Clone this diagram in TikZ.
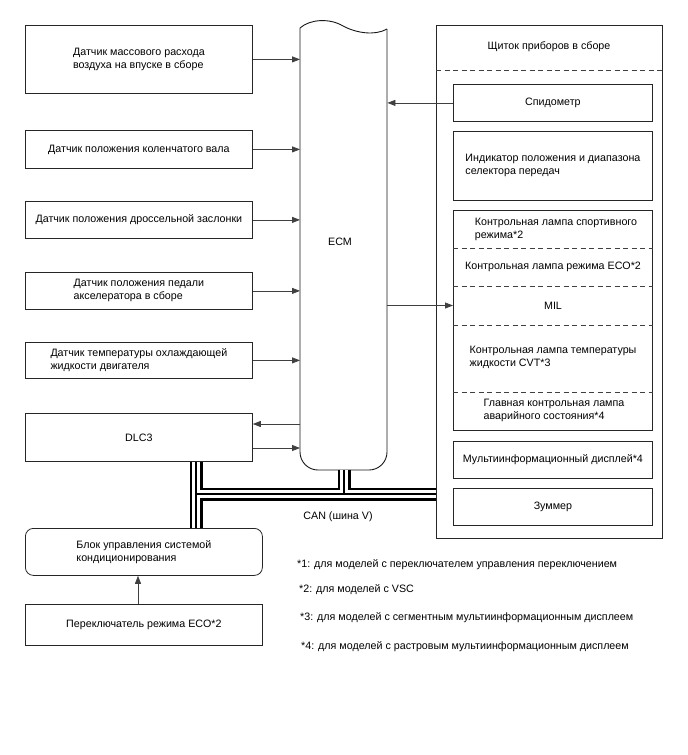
\documentclass[tikz,border=0pt]{standalone}
\usepackage{fontspec}
\setmainfont{Liberation Sans}
\usetikzlibrary{arrows.meta}
\begin{document}
\begin{tikzpicture}[x=1pt,y=-1pt,
  font=\fontsize{10.7}{13}\selectfont,
  box/.style={draw=black!85, line width=0.8pt, anchor=north west, align=left, inner sep=0pt},
  txt/.style={align=left, inner sep=0pt},
  arr/.style={draw=black!75, line width=0.8pt, -{Triangle[length=8pt,width=6pt]}},
  sep/.style={draw=black!75, line width=0.8pt, dash pattern=on 5pt off 3.5pt},
  note/.style={anchor=west, inner sep=0pt},
]
\useasboundingbox (0,0) rectangle (688,755);
\fill[white] (0,0) rectangle (688,755);

% left column
\node[box, minimum width=227pt, minimum height=68pt] (maf) at (25,25) {Датчик массового расхода\\воздуха на впуске в сборе};
\node[box, minimum width=227pt, minimum height=38pt] (crank) at (25,130) {Датчик положения коленчатого вала};
\node[box, minimum width=227pt, minimum height=37pt] (thr) at (25,201) {Датчик положения дроссельной заслонки};
\node[box, minimum width=227pt, minimum height=37pt] (ped) at (25,272) {Датчик положения педали\\акселератора в сборе};
\node[box, minimum width=227pt, minimum height=36pt] (cool) at (25,342) {Датчик температуры охлаждающей\\жидкости двигателя};
\node[box, minimum width=227pt, minimum height=48pt] (dlc) at (25,413) {DLC3};
\node[box, rounded corners=8pt, minimum width=237pt, minimum height=47pt] (ac) at (25,528) {Блок управления системой\\кондиционирования};
\node[box, minimum width=237pt, minimum height=41pt] (ecosw) at (25,604) {Переключатель режима ECO*2};

% ECM
\node[anchor=north west, minimum width=87pt, minimum height=442pt, inner sep=0pt] (ecm) at (300,28) {};
\draw[black!90, line width=0.9pt] (300,28) .. controls (310,19) and (330,18) .. (343,26) .. controls (356,33) and (375,36) .. (387,29);
\draw[black!90, line width=0.9pt, rounded corners=18pt] (387,29) -- (387,470) -- (300,470) -- (300,28);
\node[txt] (ecmtext) at (340,242) {ECM};

% instrument cluster
\node[box, minimum width=226pt, minimum height=513pt] (panel) at (436,25) {};
\node[txt] (ptitle) at (549,47) {Щиток приборов в сборе};
\draw[sep] (panel.west |- 0,70) -- (panel.east |- 0,70);
\node[box, minimum width=199pt, minimum height=37pt] (speedo) at (453,84) {Спидометр};
\node[box, minimum width=199pt, minimum height=69pt] (gear) at (453,131) {Индикатор положения и диапазона\\селектора передач};
\node[box, minimum width=199pt, minimum height=220pt] (grp) at (453,210) {};
\draw[sep] (grp.west |- 0,248) -- (grp.east |- 0,248);
\draw[sep] (grp.west |- 0,286) -- (grp.east |- 0,286);
\draw[sep] (grp.west |- 0,325) -- (grp.east |- 0,325);
\draw[sep] (grp.west |- 0,392) -- (grp.east |- 0,392);
\node[txt] (sport) at (556,229) {Контрольная лампа спортивного\\режима*2};
\node[txt] (ecol) at (553,267) {Контрольная лампа режима ECO*2};
\node[txt] (mil) at (553,305.5) {MIL};
\node[txt] (cvt) at (553,357.5) {Контрольная лампа температуры\\жидкости CVT*3};
\node[txt] (mwl) at (554,410.5) {Главная контрольная лампа\\аварийного состояния*4};
\node[box, minimum width=199pt, minimum height=37pt] (mid) at (453,441) {Мультиинформационный дисплей*4};
\node[box, minimum width=199pt, minimum height=37pt] (buz) at (453,488) {Зуммер};

% connectors
\draw[arr] (maf.east) -- (maf.east -| ecm.west);
\draw[arr] (crank.east) -- (crank.east -| ecm.west);
\draw[arr] (thr.east) -- (thr.east -| ecm.west);
\draw[arr] (ped.east) -- (ped.east -| ecm.west);
\draw[arr] (cool.east) -- (cool.east -| ecm.west);
\draw[arr] (ecm.west |- 0,424) -- (dlc.east |- 0,424);
\draw[arr] (dlc.east |- 0,448) -- (ecm.west |- 0,448);
\draw[arr] (speedo.west) -- (speedo.west -| ecm.east);
\draw[arr] (ecm.east |- mil) -- (mil -| grp.west);
\draw[arr] (ecosw.north -| 138,0) -- (ac.south -| 138,0);

% CAN bus
\foreach \w/\c in {13/black, 8/white, 1.4/black}{
  \draw[line width=\w pt, \c] (dlc.south -| 196,0) -- (ac.north -| 196,0);
  \draw[line width=\w pt, \c] (196,494) -- (panel.west |- 0,494);
  \draw[line width=\w pt, \c] (ecm.south -| 344,0) -- (344,494);
}
\node[txt] (can) at (338,517) {CAN (шина V)};

% footnotes
\node[note] (n1) at (297,565) {*1: для моделей с переключателем управления переключением};
\node[note] (n2) at (299,590) {*2: для моделей с VSC};
\node[note] (n3) at (300,618) {*3: для моделей с сегментным мультиинформационным дисплеем};
\node[note] (n4) at (301,647) {*4: для моделей с растровым мультиинформационным дисплеем};
\end{tikzpicture}
\end{document}
